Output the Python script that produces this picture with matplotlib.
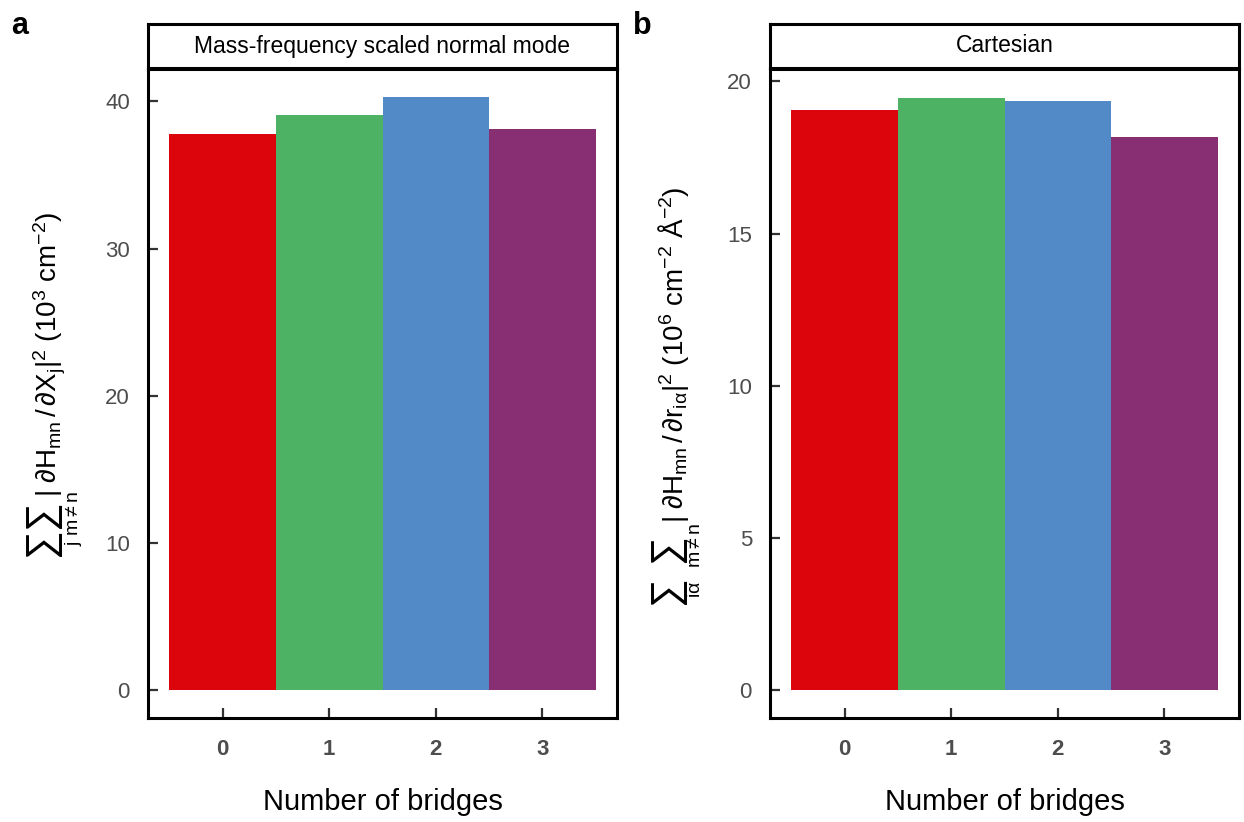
import numpy as np
import matplotlib
matplotlib.use('Agg')
import matplotlib.pyplot as plt

plt.rcParams['font.family'] = ['Liberation Sans', 'DejaVu Sans']
plt.rcParams['mathtext.fontset'] = 'custom'
plt.rcParams['mathtext.rm'] = 'Liberation Sans'
plt.rcParams['mathtext.it'] = 'Liberation Sans'
plt.rcParams['mathtext.bf'] = 'Liberation Sans:bold'

bridges = ['0', '1', '2', '3']
colors = ['#DC050C', '#4EB265', '#5289C7', '#882E72']

normal_mode = [37.75, 39.05, 40.27, 38.1]
cartesian = [19.06, 19.45, 19.36, 18.17]

W, H = 1244, 822


def px(x, y):
    # pixel position (from top-left) -> figure fraction
    return x / W, 1 - y / H


panels = [
    dict(tag='a', title='Mass-frequency scaled normal mode', vals=normal_mode,
         yticks=[0, 10, 20, 30, 40], ylim=(-1.9, 42.2), left=148,
         main=r'$|\ \partial H_{mn}\,/\,\partial X_j|^2$ (10$^3$ cm$^{-2}$)',
         main_at=(57, 497),
         sums=[(41, 542), (41, 514)],
         subs=[('j', 74, 544), (r'm$\neq$n', 74, 513)]),
    dict(tag='b', title='Cartesian', vals=cartesian,
         yticks=[0, 5, 10, 15, 20], ylim=(-0.92, 20.41), left=770,
         main=r'$|\ \partial H_{mn}\,/\,\partial r_{i\alpha}|^2$ (10$^6$ cm$^{-2}$ Å$^{-2}$)',
         main_at=(683, 523),
         sums=[(666, 590), (666, 548)],
         subs=[(r'i$\alpha$', 695, 589), (r'm$\neq$n', 695, 545)]),
]

fig = plt.figure(figsize=(12.44, 8.22), dpi=100)

for p in panels:
    left = p['left']
    ax = fig.add_axes([left / W, 1 - 718 / H, 469 / W, 649 / H])
    x = np.arange(len(bridges))
    ax.bar(x, p['vals'], width=1.0, color=colors)
    ax.set_xlim(-0.7, 3.7)
    ax.set_ylim(*p['ylim'])
    ax.set_xticks(x)
    ax.set_xticklabels(bridges, fontweight='bold')
    ax.set_yticks(p['yticks'])
    ax.tick_params(direction='in', length=7, width=1.6, color='#333333',
                   labelcolor='#4d4d4d', labelsize=16)
    ax.tick_params(axis='y', pad=13)
    ax.tick_params(axis='x', pad=15)
    for s in ax.spines.values():
        s.set_linewidth(2.2)
        s.set_color('black')
    ax.set_xlabel('Number of bridges', fontsize=21)
    ax.xaxis.set_label_coords(0.5, -(802 - 718) / 649)
    ax.xaxis.label.set_va('center')

    # y label built from pieces so the sums can be large
    mx, my = px(*p['main_at'])
    fig.text(mx, my, p['main'], fontsize=20, rotation=90, rotation_mode='anchor',
             ha='left', va='baseline')
    for sxp, syp in p['sums']:
        fx, fy = px(sxp, syp)
        fig.text(fx, fy, '∑', fontsize=29, rotation=90, ha='center', va='center')
    for s, sxp, syp in p['subs']:
        fx, fy = px(sxp, syp)
        fig.text(fx, fy, s, fontsize=14, rotation=90, ha='center', va='center')

    # strip header
    sx = fig.add_axes([left / W, 1 - 68 / H, 469 / W, 44 / H])
    sx.set_xticks([])
    sx.set_yticks([])
    for s in sx.spines.values():
        s.set_linewidth(2.2)
        s.set_color('black')
    sx.text(0.5, 0.5, p['title'], ha='center', va='center', fontsize=16.5,
            transform=sx.transAxes)

    fig.text((left - 137) / W, 1 - 26 / H, p['tag'], fontsize=22, fontweight='bold',
             ha='left', va='center')

fig.savefig('out.png', dpi=100)
